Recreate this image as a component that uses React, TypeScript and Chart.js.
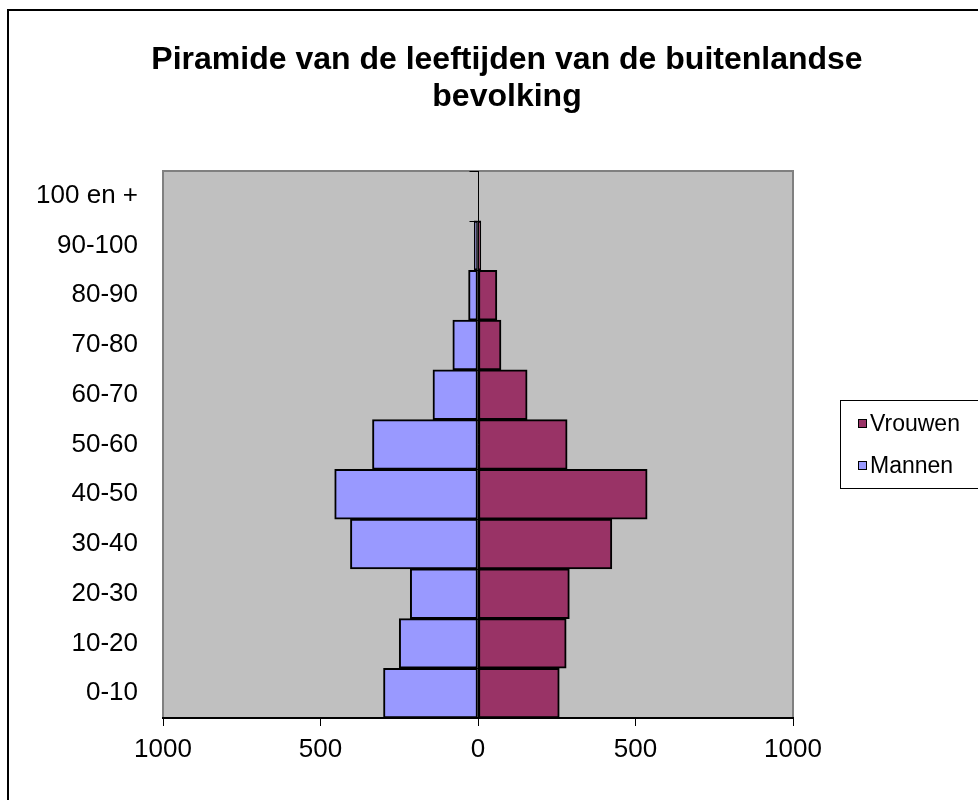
import React, { useEffect, useRef } from "react";
import { Chart, registerables } from "chart.js";

Chart.register(...registerables);

const categories = ["0-10", "10-20", "20-30", "30-40", "40-50", "50-60", "60-70", "70-80", "80-90", "90-100", "100 en +"];
const mannen = [300, 250, 215, 405, 455, 335, 143, 80, 30, 12, 0];
const vrouwen = [258, 280, 290, 425, 537, 283, 156, 73, 60, 9, 0];
const xTicks = [-1000, -500, 0, 500, 1000];
const titleLines = ["Piramide van de leeftijden van de buitenlandse", "bevolking"];
const legendLabels = ["Vrouwen", "Mannen"];

const FONT = "'Liberation Sans', Arial, sans-serif";
const MAN_COLOR = "#9999FF";
const VROUW_COLOR = "#993366";

const decorPlugin = {
  id: "decor",
  beforeDraw(chart: any) {
    const { ctx, chartArea } = chart;
    ctx.save();
    ctx.fillStyle = "#ffffff";
    ctx.fillRect(0, 0, chart.width, chart.height);
    // outer frame
    ctx.strokeStyle = "#000";
    ctx.lineWidth = 2;
    ctx.beginPath();
    ctx.moveTo(8, chart.height + 5);
    ctx.lineTo(8, 10);
    ctx.lineTo(chart.width + 5, 10);
    ctx.stroke();
    // plot area
    ctx.fillStyle = "#C0C0C0";
    ctx.fillRect(chartArea.left, chartArea.top, chartArea.right - chartArea.left, chartArea.bottom - chartArea.top);
    ctx.strokeStyle = "#808080";
    ctx.lineWidth = 2;
    ctx.strokeRect(chartArea.left, chartArea.top, chartArea.right - chartArea.left, chartArea.bottom - chartArea.top);
    // title
    ctx.fillStyle = "#000";
    ctx.font = `bold 32px ${FONT}`;
    ctx.textAlign = "center";
    ctx.textBaseline = "middle";
    ctx.fillText(titleLines[0], 507, 60);
    ctx.fillText(titleLines[1], 507, 97);
    // legend
    ctx.strokeStyle = "#000";
    ctx.lineWidth = 1;
    ctx.fillStyle = "#fff";
    ctx.fillRect(840.5, 400.5, 200, 88);
    ctx.strokeRect(840.5, 400.5, 200, 88);
    const colors = [VROUW_COLOR, MAN_COLOR];
    const ys = [424, 466];
    ctx.font = `23px ${FONT}`;
    ctx.textAlign = "left";
    for (let i = 0; i < legendLabels.length; i++) {
      ctx.fillStyle = colors[i];
      ctx.fillRect(858.5, ys[i] - 4.5, 8, 8);
      ctx.strokeRect(858.5, ys[i] - 4.5, 8, 8);
      ctx.fillStyle = "#000";
      ctx.fillText(legendLabels[i], 870, ys[i] + 1);
    }
    ctx.restore();
  },
  beforeDatasetsDraw(chart: any) {
    const { ctx, chartArea, scales } = chart;
    const x0 = Math.round(scales.x.getPixelForValue(0)) + 0.5;
    ctx.save();
    ctx.strokeStyle = "#000";
    ctx.lineWidth = 1;
    ctx.beginPath();
    ctx.moveTo(x0, chartArea.top);
    ctx.lineTo(x0, chartArea.bottom);
    const n = categories.length;
    const h = (chartArea.bottom - chartArea.top) / n;
    for (let i = 0; i <= n; i++) {
      const y = Math.round(chartArea.top + i * h) + 0.5;
      ctx.moveTo(x0 - 9, y);
      ctx.lineTo(x0, y);
    }
    ctx.stroke();
    ctx.restore();
  },
};

export default function App() {
  const ref = useRef<HTMLCanvasElement | null>(null);
  useEffect(() => {
    if (!ref.current) return;
    const chart = new Chart(ref.current, {
      type: "bar",
      data: {
        labels: categories,
        datasets: [
          {
            label: "Mannen",
            data: mannen.map((v) => -v),
            backgroundColor: MAN_COLOR,
            borderColor: "#000",
            borderWidth: 2,
            borderSkipped: false,
            barPercentage: 1,
            categoryPercentage: 1,
          },
          {
            label: "Vrouwen",
            data: vrouwen,
            backgroundColor: VROUW_COLOR,
            borderColor: "#000",
            borderWidth: 2,
            borderSkipped: false,
            barPercentage: 1,
            categoryPercentage: 1,
          },
        ],
      },
      options: {
        indexAxis: "y",
        animation: false,
        responsive: false,
        devicePixelRatio: 1,
        layout: { padding: { top: 171, right: 185, left: 0, bottom: 0 } },
        plugins: { legend: { display: false }, title: { display: false }, tooltip: { enabled: false } },
        scales: {
          x: {
            stacked: true,
            min: -1000,
            max: 1000,
            afterBuildTicks(scale: any) {
              scale.ticks = xTicks.map((v) => ({ value: v }));
            },
            afterFit(scale: any) {
              scale.height = 82;
            },
            grid: { drawOnChartArea: false, drawTicks: true, tickLength: 8, color: "#000", lineWidth: 1 },
            border: { display: true, color: "#000", width: 2 },
            ticks: {
              color: "#000",
              font: { family: FONT, size: 26 },
              padding: 8,
              maxRotation: 0,
              autoSkip: false,
              callback: (v: any) => String(Math.abs(Number(v))),
            },
          },
          y: {
            stacked: true,
            reverse: true,
            afterFit(scale: any) {
              scale.width = 163;
            },
            grid: { display: false },
            border: { display: false },
            ticks: { color: "#000", font: { family: FONT, size: 26 }, padding: 17 },
          },
        },
      },
      plugins: [decorPlugin],
    } as any);
    return () => chart.destroy();
  }, []);
  return (
    <div style={{ position: "fixed", left: 0, top: 0, width: 978, height: 800, background: "#fff" }}>
      <canvas ref={ref} width={978} height={800} style={{ display: "block" }} />
    </div>
  );
}
